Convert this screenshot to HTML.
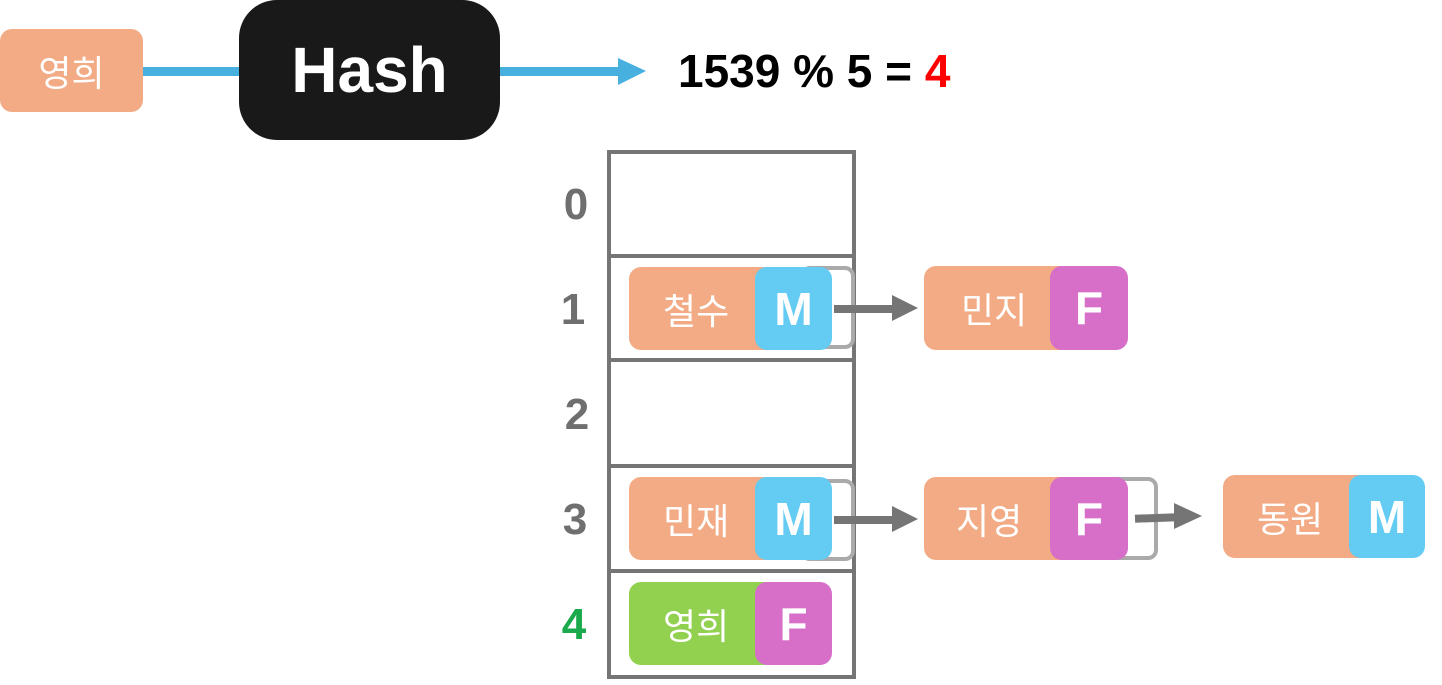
<!DOCTYPE html>
<html><head><meta charset="utf-8"><style>
body{margin:0;width:1442px;height:685px;background:#fff;position:relative;overflow:hidden;font-family:"Liberation Sans","Noto Sans CJK KR",sans-serif}
.a{position:absolute;box-sizing:border-box}
.o{background:#f2ab85;border-radius:12px;color:#fff;font-size:36px;display:flex;align-items:center}
.k{border-radius:12px;color:#fff;font-weight:bold;font-size:46px;display:flex;align-items:center;justify-content:center}
.M{background:#64cbf3}.F{background:#d76fc9}
.p{border:4px solid #aaa;border-radius:10px}
.idx{font-size:44px;font-weight:bold;color:#6f6f6f;width:40px;text-align:center}
.cell{border:4px solid #757575}
</style></head><body>
<div class="a o" style="left:0;top:29px;width:143px;height:83px;justify-content:center">영희</div>
<div class="a" style="left:143px;top:67px;width:100px;height:9px;background:#47b0df"></div>
<div class="a" style="left:498px;top:67px;width:125px;height:9px;background:#47b0df"></div>
<svg class="a" style="left:618px;top:58px" width="30" height="28"><polygon points="0,0 28,13 0,27" fill="#47b0df"/></svg>
<div class="a" style="left:239px;top:0;width:261px;height:140px;background:#191919;border-radius:38px;color:#fff;font-weight:bold;font-size:64px;display:flex;align-items:center;justify-content:center">Hash</div>
<div class="a" style="left:678px;top:44px;font-size:46px;font-weight:bold;color:#000;white-space:pre">1539 % 5 = <span style="color:#f00">4</span></div>

<div class="a cell" style="left:607px;top:150px;width:249px;height:108px"></div>
<div class="a cell" style="left:607px;top:254px;width:249px;height:108px"></div>
<div class="a cell" style="left:607px;top:358px;width:249px;height:110px"></div>
<div class="a cell" style="left:607px;top:464px;width:249px;height:109px"></div>
<div class="a cell" style="left:607px;top:569px;width:249px;height:110px"></div>

<div class="a idx" style="left:556px;top:180px">0</div>
<div class="a idx" style="left:553px;top:285px">1</div>
<div class="a idx" style="left:557px;top:390px">2</div>
<div class="a idx" style="left:555px;top:495px">3</div>
<div class="a idx" style="left:554px;top:600px;color:#1aaa4c">4</div>

<!-- row1 -->
<div class="a p" style="left:800px;top:266px;width:55px;height:83px"></div>
<div class="a o" style="left:629px;top:267px;width:150px;height:83px;padding-left:34px">철수</div>
<div class="a k M" style="left:755px;top:267px;width:77px;height:83px">M</div>
<div class="a" style="left:834px;top:305px;width:62px;height:8px;background:#757575"></div>
<svg class="a" style="left:892px;top:295px" width="28" height="28"><polygon points="0,0 26,13 0,26" fill="#757575"/></svg>
<div class="a o" style="left:924px;top:266px;width:150px;height:84px;padding-left:37px">민지</div>
<div class="a k F" style="left:1050px;top:266px;width:78px;height:84px">F</div>

<!-- row3 -->
<div class="a p" style="left:800px;top:479px;width:55px;height:82px"></div>
<div class="a o" style="left:629px;top:477px;width:150px;height:83px;padding-left:34px">민재</div>
<div class="a k M" style="left:755px;top:477px;width:77px;height:83px">M</div>
<div class="a" style="left:834px;top:516px;width:62px;height:8px;background:#757575"></div>
<svg class="a" style="left:892px;top:506px" width="28" height="28"><polygon points="0,0 26,13 0,26" fill="#757575"/></svg>
<div class="a p" style="left:1095px;top:477px;width:63px;height:83px"></div>
<div class="a o" style="left:924px;top:477px;width:150px;height:83px;padding-left:32px">지영</div>
<div class="a k F" style="left:1050px;top:477px;width:78px;height:83px">F</div>
<div class="a" style="left:1135px;top:514px;width:42px;height:8px;background:#757575;transform:rotate(-2deg)"></div>
<svg class="a" style="left:1174px;top:503px" width="30" height="28"><polygon points="0,0 28,13 0,26" fill="#757575"/></svg>
<div class="a o" style="left:1223px;top:475px;width:150px;height:83px;padding-left:34px">동원</div>
<div class="a k M" style="left:1349px;top:475px;width:76px;height:83px">M</div>

<!-- row4 -->
<div class="a o" style="left:629px;top:582px;width:150px;height:83px;padding-left:34px;background:#92d050">영희</div>
<div class="a k F" style="left:755px;top:582px;width:77px;height:83px">F</div>
</body></html>
